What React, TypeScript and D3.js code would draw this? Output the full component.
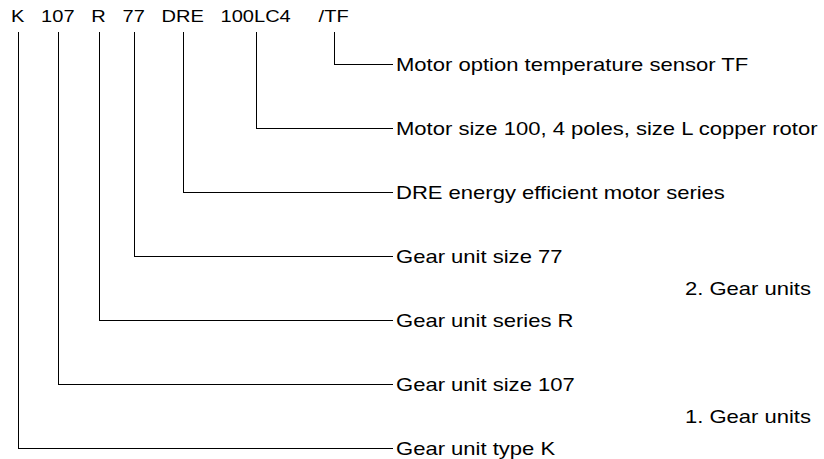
import React, { useEffect, useRef } from 'react';
import * as d3 from 'd3';

// type designation, spaced as in the drawing
const codeLine = 'K   107   R   77   DRE   100LC4     /TF';

// one description per code part, in the same order (K first)
const descriptions = [
  'Gear unit type K',
  'Gear unit size 107',
  'Gear unit series R',
  'Gear unit size 77',
  'DRE energy efficient motor series',
  'Motor size 100, 4 poles, size L copper rotor',
  'Motor option temperature sensor TF',
];

// group labels sit between the rows of two code parts
const groupLabels = ['1. Gear units', '2. Gear units'];
const groupBetween = [['K', '107'], ['R', '77']];

const W = 824;
const H = 459;
const font = '"Liberation Sans", Arial, Helvetica, sans-serif';

export default function App() {
  const ref = useRef<SVGSVGElement>(null);

  useEffect(() => {
    const svg = d3.select(ref.current);
    svg.selectAll('*').remove();

    const codeX = 11;
    const codeY = 21.5;
    const codeSize = 17;
    const codeSx = 1.18; // glyphs in the source are a bit wide
    const labelSize = 19;
    const labelSx = 1.16;
    const lineTop = 32;
    const labelX = 396;
    const lineEnd = labelX - 3;
    const groupX = 811;

    const pieces = codeLine.split(/(\s+)/).filter((s) => s.length);
    const parts = pieces.filter((s) => !/\s/.test(s));

    const code = svg.append('text')
      .attr('transform', `translate(${codeX},${codeY}) scale(${codeSx},1)`)
      .attr('font-family', font)
      .attr('font-size', codeSize)
      .attr('fill', '#000')
      .attr('xml:space', 'preserve')
      .style('white-space', 'pre');

    code.selectAll('tspan')
      .data(pieces)
      .join('tspan')
      .attr('class', (d) => (/\s/.test(d) ? 'gap' : 'part'))
      .text((d) => d);

    // centre of each code part, measured from the laid out text
    const centers: number[] = [];
    code.selectAll<SVGTSpanElement, string>('tspan.part').each(function () {
      const start = this.getStartPositionOfChar(0).x;
      const w = this.getComputedTextLength();
      centers.push(Math.round(codeX + (start + w / 2) * codeSx) + 0.5);
    });

    const yscale = d3.scalePoint<string>()
      .domain(parts)
      .range([448, 64]);

    const capShift = labelSize * 0.716 / 2;

    svg.append('g')
      .attr('fill', 'none')
      .attr('stroke', '#000')
      .attr('stroke-width', 1)
      .attr('shape-rendering', 'crispEdges')
      .selectAll('path')
      .data(parts)
      .join('path')
      .attr('d', (d, i) => `M${centers[i]},${lineTop}V${(yscale(d) as number) + 0.5}H${lineEnd}`);

    svg.append('g')
      .attr('font-family', font)
      .attr('font-size', labelSize)
      .attr('fill', '#000')
      .selectAll('text')
      .data(parts)
      .join('text')
      .attr('transform', (d) => `translate(${labelX},${(yscale(d) as number) + capShift}) scale(${labelSx},1)`)
      .text((d, i) => descriptions[i]);

    svg.append('g')
      .attr('font-family', font)
      .attr('font-size', labelSize)
      .attr('fill', '#000')
      .attr('text-anchor', 'end')
      .selectAll('text')
      .data(groupLabels)
      .join('text')
      .attr('transform', (d, i) => {
        const mid = d3.mean(groupBetween[i], (p) => yscale(p) as number) as number;
        return `translate(${groupX},${mid + capShift}) scale(${labelSx},1)`;
      })
      .text((d) => d);
  }, []);

  return (
    <svg
      ref={ref}
      width={W}
      height={H}
      style={{ position: 'absolute', left: 0, top: 0, background: '#fff' }}
    />
  );
}
